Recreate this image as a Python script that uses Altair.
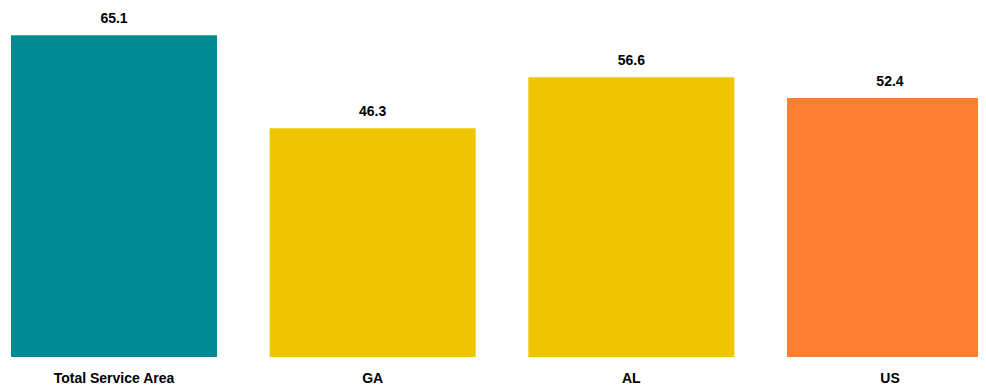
import altair as alt
import pandas as pd

categories = ["Total Service Area", "GA", "AL", "US"]
values = [65.1, 46.3, 56.6, 52.4]
colors = ["#008B94", "#EFC400", "#EFC400", "#FF7F32"]

df = pd.DataFrame({"cat": categories, "val": values, "col": colors})

x = alt.X("cat:N", sort=categories, title=None,
          scale=alt.Scale(paddingInner=0.2036, paddingOuter=0),
          axis=alt.Axis(labelAngle=0, domain=False, ticks=False, labelPadding=14,
                        labelFont="Liberation Sans", labelFontSize=14,
                        labelFontWeight="bold", labelColor="#000000"))
y = alt.Y("val:Q", title=None, scale=alt.Scale(domain=[0, 70], nice=False),
          axis=None)

bars = alt.Chart(df).mark_bar().encode(
    x=x, y=y, color=alt.Color("col:N", scale=None)
)
labels = alt.Chart(df).mark_text(
    baseline="alphabetic", dy=-12, font="Liberation Sans", fontSize=14,
    fontWeight="bold", color="#000000"
).encode(x=x, y=y, text=alt.Text("val:Q", format=".1f"))

chart = (bars + labels).properties(
    width=982, height=346,
    autosize=alt.AutoSizeParams(type="none"),
    padding={"left": 3, "top": 3, "right": -15, "bottom": 30},
).configure_view(stroke=None).configure_axis(grid=False)

chart.save("out.html", embed_options={"renderer": "svg", "actions": False})
